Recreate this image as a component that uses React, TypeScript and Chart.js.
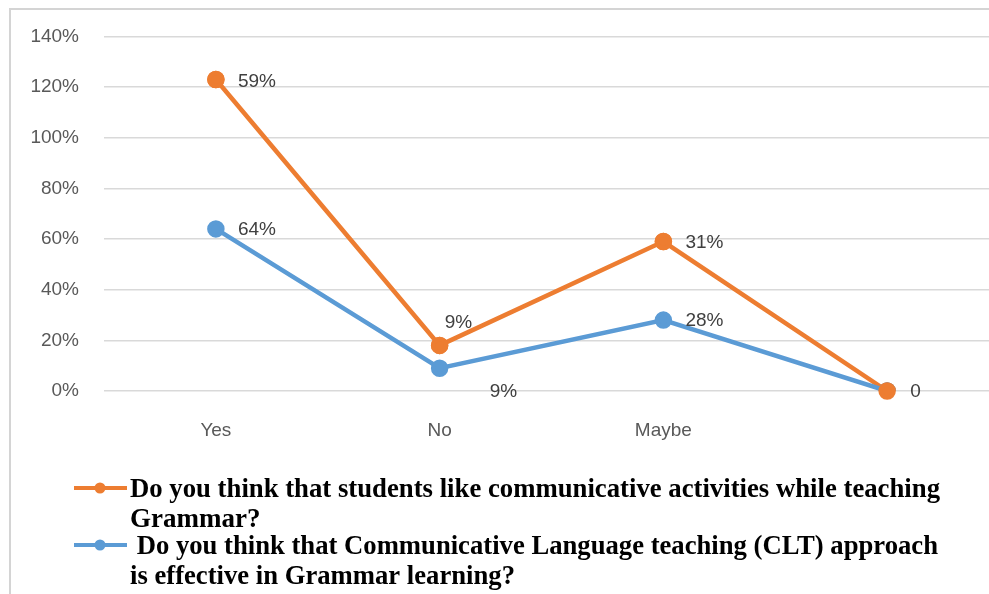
import React, { useEffect, useRef } from "react";
import { Chart, registerables } from "chart.js";

Chart.register(...registerables);

const categories = ["Yes", "No", "Maybe", ""];
const clfValues = [64, 9, 28, 0]; // blue series (bottom of stack)
const studentsValues = [59, 9, 31, 0]; // orange series (stacked on blue)
const clfLabels = ["64%", "9%", "28%", ""];
const studentsLabels = ["59%", "9%", "31%", "0"];
const yTicks = [0, 20, 40, 60, 80, 100, 120, 140];

const ORANGE = "#ED7D31";
const BLUE = "#5B9BD5";

const studentsLegend = [
  "Do you think that students like communicative activities while teaching",
  "Grammar?",
];
const clfLegend = [
  " Do you think that Communicative Language teaching (CLT) approach",
  "is effective in Grammar learning?",
];

// label placement offsets relative to the point (Excel-like label positions)
const clfLabelOffsets = [
  [22, 1],
  [50, 24],
  [22, 1],
  [22, 1],
];
const studentsLabelOffsets = [
  [22, 2],
  [5, -23],
  [22, 1],
  [23, 1],
];

const TICK_FONT = "Liberation Sans";

export default function App() {
  const ref = useRef<HTMLCanvasElement | null>(null);

  useEffect(() => {
    const canvas = ref.current;
    if (!canvas) return;

    const framePlugin = {
      id: "frame",
      beforeDraw(chart: any) {
        const ctx = chart.ctx;
        ctx.save();
        ctx.fillStyle = "#ffffff";
        ctx.fillRect(0, 0, chart.width, chart.height);
        ctx.strokeStyle = "#d4d4d4";
        ctx.lineWidth = 2;
        ctx.beginPath();
        ctx.moveTo(10, chart.height + 5);
        ctx.lineTo(10, 9);
        ctx.lineTo(chart.width + 5, 9);
        ctx.stroke();
        ctx.restore();
      },
    };

    const labelPlugin = {
      id: "pointLabels",
      afterDatasetsDraw(chart: any) {
        const ctx = chart.ctx;
        // orange markers sit on top of the blue ones (as in the original)
        const topMeta = chart.getDatasetMeta(1);
        topMeta.data.forEach((pt: any) => pt.draw(ctx, chart.chartArea));

        ctx.save();
        ctx.font = `19px "${TICK_FONT}"`;
        ctx.fillStyle = "#404040";
        ctx.textAlign = "left";
        ctx.textBaseline = "middle";
        const sets = [
          { idx: 0, labels: clfLabels, offs: clfLabelOffsets },
          { idx: 1, labels: studentsLabels, offs: studentsLabelOffsets },
        ];
        sets.forEach((s) => {
          const meta = chart.getDatasetMeta(s.idx);
          meta.data.forEach((pt: any, i: number) => {
            const t = s.labels[i];
            if (!t) return;
            ctx.fillText(t, pt.x + s.offs[i][0], pt.y + s.offs[i][1]);
          });
        });
        ctx.restore();
      },
    };

    const legendPlugin = {
      id: "customLegend",
      afterDraw(chart: any) {
        const ctx = chart.ctx;
        ctx.save();
        const items = [
          { color: ORANGE, lines: studentsLegend, y: 488, widths: [810, 200], x0: [130, 130] },
          { color: BLUE, lines: clfLegend, y: 545, widths: [808, 385], x0: [130, 130] },
        ];
        items.forEach((it) => {
          ctx.strokeStyle = it.color;
          ctx.lineWidth = 4;
          ctx.beginPath();
          ctx.moveTo(74, it.y);
          ctx.lineTo(127, it.y);
          ctx.stroke();
          ctx.fillStyle = it.color;
          ctx.beginPath();
          ctx.arc(100, it.y, 5.5, 0, Math.PI * 2);
          ctx.fill();
          ctx.fillStyle = "#000000";
          ctx.font = `bold 27px "Liberation Serif"`;
          ctx.textAlign = "left";
          ctx.textBaseline = "alphabetic";
          it.lines.forEach((ln, j) => {
            const baseline = it.y + 9 + j * 30;
            ctx.fillText(ln, it.x0[j], baseline, it.widths[j]);
          });
        });
        ctx.restore();
      },
    };

    const chart = new Chart(canvas, {
      type: "line",
      data: {
        labels: categories,
        datasets: [
          {
            label: clfLegend.join(" "),
            data: clfValues,
            borderColor: BLUE,
            backgroundColor: BLUE,
            borderWidth: 4.5,
            pointRadius: 6.5,
            pointBackgroundColor: BLUE,
            pointBorderColor: BLUE,
            tension: 0,
            fill: false,
          },
          {
            label: studentsLegend.join(" "),
            data: studentsValues,
            borderColor: ORANGE,
            backgroundColor: ORANGE,
            borderWidth: 4.5,
            pointRadius: 6.5,
            pointBackgroundColor: ORANGE,
            pointBorderColor: ORANGE,
            tension: 0,
            fill: false,
          },
        ],
      },
      options: {
        responsive: false,
        animation: false,
        layout: { padding: { left: 0, right: 9, top: 32, bottom: 0 } },
        plugins: {
          legend: { display: false },
          tooltip: { enabled: false },
        },
        scales: {
          x: {
            offset: true,
            grid: { display: false, drawTicks: false },
            border: { display: false },
            ticks: {
              color: "#595959",
              font: { family: TICK_FONT, size: 19 },
              padding: 28,
              maxRotation: 0,
            },
            afterFit(scale: any) {
              scale.height = 203;
            },
          },
          y: {
            stacked: true,
            min: 0,
            max: 140,
            afterBuildTicks(scale: any) {
              scale.ticks = yTicks.map((v) => ({ value: v }));
            },
            grid: { color: "#d9d9d9", lineWidth: 1.5, drawTicks: false },
            border: { display: false },
            ticks: {
              color: "#595959",
              font: { family: TICK_FONT, size: 19 },
              padding: 25,
              callback: (v: any) => `${v}%`,
            },
            afterFit(scale: any) {
              scale.width = 104;
            },
          },
        },
      },
      plugins: [framePlugin, labelPlugin, legendPlugin],
    } as any);

    return () => chart.destroy();
  }, []);

  return (
    <div
      style={{
        position: "absolute",
        left: 0,
        top: 0,
        width: 989,
        height: 594,
        overflow: "hidden",
        background: "#fff",
      }}
    >
      <canvas ref={ref} width={1010} height={594} style={{ display: "block", width: 1010, height: 594 }} />
    </div>
  );
}
